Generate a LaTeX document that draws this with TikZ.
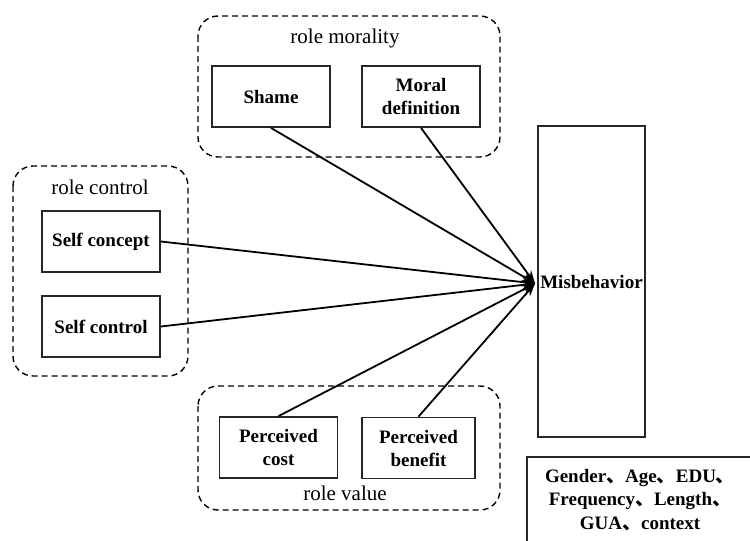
\documentclass[tikz,border=0pt]{standalone}
\usepackage{fontspec}
\setmainfont{Liberation Serif}
\newfontfamily\cjk{Noto Sans CJK SC}
\usetikzlibrary{positioning, arrows.meta, calc}
\newcommand{\dun}{{\cjk 、}}

\begin{document}
\begin{tikzpicture}[x=1pt, y=-1pt,
  group/.style={draw, dashed, dash pattern=on 6pt off 4pt, line width=1.4pt,
                rounded corners=20pt},
  factor/.style={draw=black!85, line width=1.8pt, minimum width=118pt,
                 minimum height=61pt, align=center, inner sep=2pt,
                 font=\fontsize{19}{23}\selectfont\bfseries},
  grplabel/.style={font=\fontsize{21}{25}\selectfont},
  link/.style={line width=1.8pt, -{Stealth[length=13pt, width=9pt]}},
]
  \useasboundingbox (0,0) rectangle (750,541);

  % Top group: role morality
  \draw[group] (198,16) rectangle (500,157);
  \node[grplabel] (morlab) at (345,38) {role morality};
  \node[factor] (shame) at (271,96.5) {Shame};
  \node[factor] (moral) at (421,96.5) {Moral\\definition};

  % Left group: role control
  \draw[group] (13,166) rectangle (188,376);
  \node[grplabel] (conlab) at (100,187) {role control};
  \node[factor] (concept) at (101,241.5) {Self concept};
  \node[factor] (control) at (101,326.5) {Self control};

  % Bottom group: role value
  \draw[group] (198,386) rectangle (500,510);
  \node[factor] (cost) at (278.5,447.5) {Perceived\\cost};
  \node[factor, minimum width=113pt] (benefit) at (418.5,448) {Perceived\\benefit};
  \node[grplabel] (vallab) at (345,493) {role value};

  % Outcome and controls
  \node[factor, minimum width=107pt, minimum height=311pt, inner sep=0pt] (misb) at (591.5,281.5) {Misbehavior};
  \draw[line width=1.8pt, draw=black!85] (527,457) rectangle (780,560);
  \node[font=\fontsize{19}{23.5}\selectfont\bfseries, align=center] (ctrl) at (640,500)
    {Gender\dun Age\dun EDU\dun\\Frequency\dun Length\dun\\GUA\dun context};

  \coordinate (tip) at ($(misb.west)+(-2,2)$);
  \foreach \src/\anc in {shame/south, moral/south, concept/east, control/east, cost/north, benefit/north} {
    \draw[link] (\src.\anc) -- (tip);
  }
\end{tikzpicture}
\end{document}
